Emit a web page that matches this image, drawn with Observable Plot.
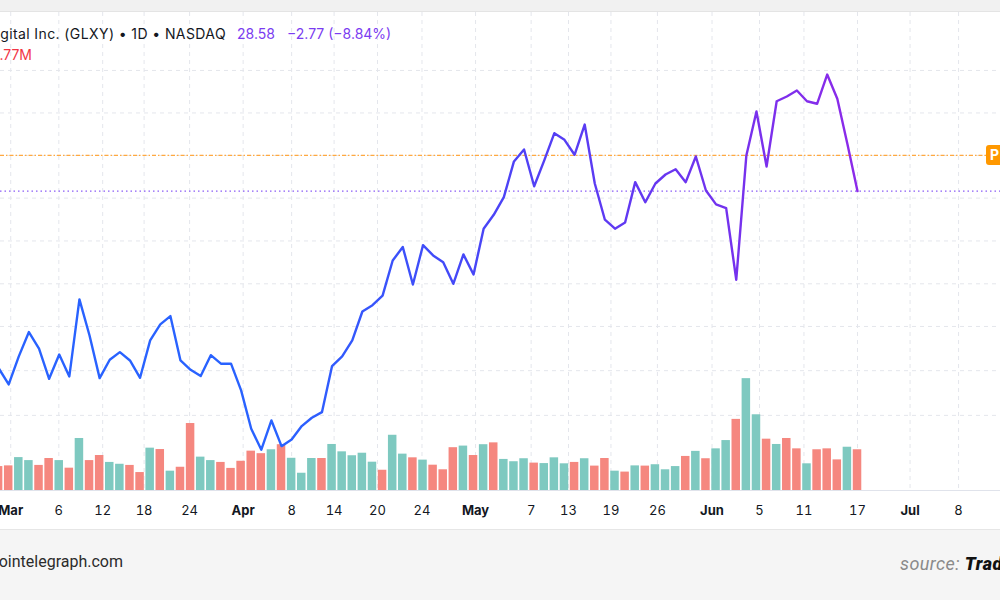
<!DOCTYPE html>
<html>
<head>
<meta charset="utf-8">
<script src="https://cdn.jsdelivr.net/npm/d3@7"></script>
<script src="https://cdn.jsdelivr.net/npm/@observablehq/plot@0.6"></script>
<style>
  html, body { margin: 0; padding: 0; background: #ffffff; }
  #wrap { position: relative; width: 1000px; height: 600px; overflow: hidden; background: #ffffff; font-family: Inter, "Noto Sans", sans-serif; }
  #topstrip { position: absolute; left: 0; top: 0; width: 1000px; height: 11px; background: #f1f1f1; border-bottom: 1px solid #e4e4e4; }
  #chart { position: absolute; left: 0; top: 12px; }
  .legend { position: absolute; white-space: nowrap; font-size: 14px; line-height: 18px; }
  #name { right: 774px; top: 25px; color: #131722; letter-spacing: 0.4px; }
  #last { left: 237px; top: 25px; color: #7b3cf1; }
  #chg { left: 287px; top: 25px; color: #7b3cf1; }
  #vol { right: 968px; top: 46px; color: #131722; }
  #vol span { color: #f23645; }
  #plabel { position: absolute; left: 986px; top: 145px; width: 22px; height: 20px; background: #ff9800; border-radius: 3px; color: #fff; font: bold 14px Inter, sans-serif; line-height: 20px; padding-left: 4px; box-sizing: border-box; }
  #footer { position: absolute; left: 0; top: 529px; width: 1000px; height: 71px; background: #f5f5f5; border-top: 1px solid #e6e6e6; }
  #site { position: absolute; right: 877px; top: 22px; font: 16px Roboto, "Noto Sans", sans-serif; color: #2b2b2b; white-space: nowrap; }
  #source { position: absolute; left: 900px; top: 23px; font: italic 18px Roboto, "Noto Sans", sans-serif; color: #8a8a8a; white-space: nowrap; letter-spacing: 0.4px; }
  #source b { color: #111; font-weight: 900; letter-spacing: 0.6px; }
</style>
</head>
<body>
<div id="wrap">
  <div id="topstrip"></div>
  <div id="chart"></div>
  <div class="legend" id="name">Galaxy Digital Inc. (GLXY) • 1D • NASDAQ</div>
  <div class="legend" id="last">28.58</div>
  <div class="legend" id="chg">−2.77 (−8.84%)</div>
  <div class="legend" id="vol">Vol <span>1.77M</span></div>
  <div id="plabel">P</div>
  <div id="footer">
    <div id="site">cointelegraph.com</div>
    <div id="source">source: <b>TradingView</b></div>
  </div>
</div>
<script>
// ---- data (daily bars, index 1..86) ----
const closes = [
  18.17, 17.21, 18.86, 20.29, 19.31, 17.54, 18.97, 17.68, 22.21, 20.09,
  17.58, 18.66, 19.11, 18.62, 17.60, 19.80, 20.74, 21.23, 18.62, 18.07,
  17.70, 18.93, 18.43, 18.43, 16.86, 14.60, 13.37, 15.09, 13.58, 13.97,
  14.76, 15.25, 15.58, 18.29, 18.86, 19.80, 21.50, 21.87, 22.43, 24.50,
  25.29, 23.09, 25.40, 24.80, 24.40, 23.13, 24.86, 23.68, 26.37, 27.19,
  28.23, 30.33, 31.03, 28.87, 30.39, 31.99, 31.60, 30.72, 32.50, 29.03,
  26.90, 26.37, 26.74, 29.11, 27.93, 29.03, 29.56, 29.87, 29.11, 30.62,
  28.62, 27.80, 27.58, 23.37, 30.68, 33.27, 30.03, 33.87, 34.15, 34.50,
  33.87, 33.72, 35.44, 34.02, 31.35, 28.58
];
// volume in millions
const volumes = [
  1.04, 1.07, 1.43, 1.30, 1.09, 1.39, 1.30, 0.97, 2.26, 1.30,
  1.52, 1.22, 1.14, 1.09, 0.78, 1.84, 1.78, 0.84, 1.01, 2.91,
  1.45, 1.30, 1.22, 0.96, 1.27, 1.71, 1.60, 1.77, 1.99, 1.40,
  0.75, 1.39, 1.39, 2.00, 1.68, 1.51, 1.62, 1.23, 0.88, 2.40,
  1.58, 1.42, 1.32, 1.10, 0.90, 1.86, 1.93, 1.52, 1.99, 2.07,
  1.35, 1.25, 1.38, 1.19, 1.17, 1.42, 1.16, 1.22, 1.38, 1.06,
  1.39, 0.84, 0.80, 1.07, 1.06, 1.12, 0.90, 1.04, 1.48, 1.70,
  1.38, 1.81, 2.17, 3.09, 4.86, 3.29, 2.23, 2.00, 2.26, 1.81,
  1.16, 1.77, 1.81, 1.33, 1.88, 1.77
];
// candle direction of each volume bar: u = up (teal), d = down (red)
const volDir = [
  "d","d","u","u","d","d","u","d","u","d",
  "d","u","u","d","d","u","d","u","d","d",
  "u","u","d","d","d","d","d","u","d","u",
  "u","u","d","u","u","u","u","u","d","u",
  "u","d","u","d","d","d","u","d","u","d",
  "u","u","u","d","u","u","u","d","u","d",
  "d","u","d","u","d","u","u","u","d","u",
  "d","u","u","d","u","u","d","u","d","d",
  "u","d","d","d","u","d"
];
// time-axis labels and their bar positions
const tickLabels = ["Mar","6","12","18","24","Apr","8","14","20","24","May","7","13","19","26","Jun","5","11","17","Jul","8"];
const tickPos    = [2.2, 6.96, 11.3, 15.4, 19.9, 25.2, 30.0, 34.2, 38.5, 42.9, 48.2, 53.7, 57.4, 61.6, 66.2, 71.6, 76.3, 80.7, 86.0, 91.2, 96.0];
const monthLabels = ["Mar","Apr","May","Jun","Jul"];
// price gridlines
const gridPrices = [35.68, 33.18, 30.68, 28.17, 25.65, 23.13, 20.62, 18.02, 15.39];
const lastPrice = 28.58;
const postPrice = 30.68;

// ---- build table ----
const bars = closes.map((c, i) => ({i: i + 1, close: c, vol: volumes[i], dir: volDir[i]}));

const yMin = 10.97, yMax = 39.09;           // visible price range of the pane
const volShare = 0.234;                      // share of pane height used by the largest volume bar
const vMax = d3.max(volumes);
const volTop = v => yMin + v / vMax * volShare * (yMax - yMin);

const monthTicks = tickPos.filter((p, k) => monthLabels.includes(tickLabels[k]));
const dayTicks = tickPos.filter((p, k) => !monthLabels.includes(tickLabels[k]));
const labelAt = p => tickLabels[tickPos.indexOf(p)];

const chart = Plot.plot({
  width: 1000,
  height: 518,
  marginTop: 0,
  marginRight: 0,
  marginLeft: 0,
  marginBottom: 40,
  style: {background: "transparent", fontFamily: "Inter, 'Noto Sans', sans-serif", overflow: "visible"},
  x: {domain: [1.1885, 100.15], label: null},
  y: {domain: [yMin, yMax], axis: null, label: null},
  marks: [
    Plot.ruleY(gridPrices, {stroke: "#e4e6ec", strokeDasharray: "4,4"}),
    Plot.ruleX(tickPos, {stroke: "#e4e6ec", strokeDasharray: "4,4"}),
    Plot.rect(bars, {
      x1: d => d.i - 0.5, x2: d => d.i + 0.5,
      y1: yMin, y2: d => volTop(d.vol),
      insetLeft: 0.8, insetRight: 0.8,
      fill: d => d.dir === "u" ? "#7ec9c0" : "#f5877f"
    }),
    Plot.ruleY([yMin], {stroke: "#e0e3eb"}),
    Plot.ruleY([postPrice], {stroke: "#ffa940", strokeDasharray: "4,2,1.5,2", strokeWidth: 1.2}),
    Plot.ruleY([lastPrice], {stroke: "#8a5cf6", strokeDasharray: "1.5,3", strokeWidth: 1.2}),
    Plot.line(bars, {x: "i", y: "close", stroke: "url(#lineGrad)", strokeWidth: 2.4, strokeLinejoin: "round", strokeLinecap: "round"}),
    Plot.axisX(monthTicks, {tickSize: 0, tickPadding: 15, tickFormat: labelAt, fontSize: 13, fontWeight: "bold", fill: "#131722", label: null}),
    Plot.axisX(dayTicks, {tickSize: 0, tickPadding: 15, tickFormat: labelAt, fontSize: 13, fill: "#131722", label: null})
  ]
});

// gradient for the price line (blue to violet along time)
const xs = chart.scale("x");
const defs = d3.select(chart).insert("defs", ":first-child");
const grad = defs.append("linearGradient")
  .attr("id", "lineGrad")
  .attr("gradientUnits", "userSpaceOnUse")
  .attr("x1", 0).attr("x2", xs.apply(closes.length))
  .attr("y1", 0).attr("y2", 0);
[[0, "#2962ff"], [0.33, "#2962ff"], [0.55, "#4746f7"], [0.72, "#5f39f2"], [1, "#8c2ae9"]].forEach(([o, c]) =>
  grad.append("stop").attr("offset", o).attr("stop-color", c));

document.getElementById("chart").appendChild(chart);
</script>
</body>
</html>
